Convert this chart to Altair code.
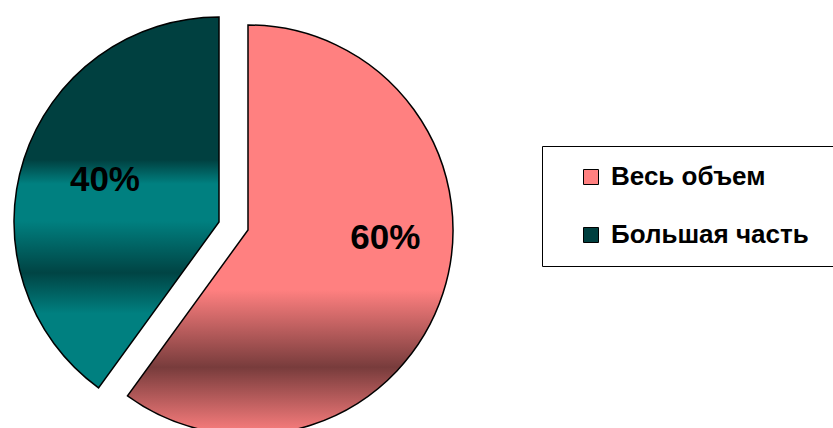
import math
import altair as alt
import pandas as pd

# ---- data ----
categories = ["Весь объем", "Большая часть"]
values = [60, 40]
labels = ["60%", "40%"]
order = [0, 1]

df = pd.DataFrame({"cat": categories, "value": values, "label": labels, "order": order})

theta_scale = alt.Scale(domain=[0, 1], range=[0, 2 * math.pi])

base = alt.Chart(df).transform_window(
    cum="sum(value)", sort=[alt.SortField("order")], frame=[None, 0]
).transform_joinaggregate(total="sum(value)").transform_calculate(
    start="(datum.cum - datum.value) / datum.total",
    end="datum.cum / datum.total",
    mid="(datum.cum - datum.value / 2) / datum.total",
)

pink_grad = alt.Gradient(
    gradient="linear", x1=0, y1=0, x2=0, y2=1,
    stops=[
        alt.GradientStop(offset=0.0, color="#FF8080"),
        alt.GradientStop(offset=0.646, color="#FF8080"),
        alt.GradientStop(offset=0.835, color="#783C3C"),
        alt.GradientStop(offset=1.0, color="#FF8080"),
    ],
)
teal_grad = alt.Gradient(
    gradient="linear", x1=0, y1=0, x2=0, y2=1,
    stops=[
        alt.GradientStop(offset=0.0, color="#004040"),
        alt.GradientStop(offset=0.385, color="#004040"),
        alt.GradientStop(offset=0.45, color="#008080"),
        alt.GradientStop(offset=0.55, color="#008080"),
        alt.GradientStop(offset=0.69, color="#004444"),
        alt.GradientStop(offset=0.80, color="#008080"),
        alt.GradientStop(offset=1.0, color="#008080"),
    ],
)

CX, CY, R = 248, 230, 205          # main pie centre and radius
EX, EY = -29, -8                    # explode offset of the second slice

pink_arc = base.transform_filter("datum.order == 0").mark_arc(
    fill=pink_grad, stroke="black", strokeWidth=1.5, outerRadius=R
).encode(
    theta=alt.Theta("start:Q", scale=theta_scale),
    theta2="end:Q",
    x=alt.value(CX), y=alt.value(CY),
)

teal_arc = base.transform_filter("datum.order == 1").mark_arc(
    fill=teal_grad, stroke="black", strokeWidth=1.5, outerRadius=R
).encode(
    theta=alt.Theta("start:Q", scale=theta_scale),
    theta2="end:Q",
    x=alt.value(CX + EX), y=alt.value(CY + EY),
)

text_style = dict(font="Liberation Sans", fontWeight="bold", fontSize=35,
                  color="black", align="center", baseline="middle")

pink_text = base.transform_filter("datum.order == 0").mark_text(
    radius=137, dx=7, dy=-34, **text_style
).encode(
    theta=alt.Theta("mid:Q", scale=theta_scale),
    text="label:N",
    x=alt.value(CX), y=alt.value(CY),
)

teal_text = base.transform_filter("datum.order == 1").mark_text(
    radius=122, dx=2, dy=-4, **text_style
).encode(
    theta=alt.Theta("mid:Q", scale=theta_scale),
    text="label:N",
    x=alt.value(CX + EX), y=alt.value(CY + EY),
)

legend_layer = alt.Chart(df).mark_square(size=0, opacity=0).encode(
    color=alt.Color(
        "cat:N",
        scale=alt.Scale(domain=categories, range=["#FF8080", "#003F3F"]),
        legend=alt.Legend(
            title=" ", titleOrient="right", titlePadding=14, titleFontSize=10,
            orient="none", legendX=542, legendY=146,
            strokeColor="black", padding=18,
            symbolType="square", symbolSize=225, symbolOpacity=1,
            symbolStrokeColor="black", symbolStrokeWidth=1,
            symbolOffset=18, labelOffset=7, rowPadding=32,
            labelFont="Liberation Sans", labelFontWeight="bold",
            labelFontSize=26, labelColor="black", labelLimit=400,
        ),
    )
)

chart = alt.layer(pink_arc, teal_arc, pink_text, teal_text, legend_layer).properties(
    width=833, height=428, padding=0, autosize=alt.AutoSizeParams(type="none"),
    background="white",
).configure_view(stroke=None)

chart.save("out.html", embed_options={"renderer": "svg", "actions": False})
